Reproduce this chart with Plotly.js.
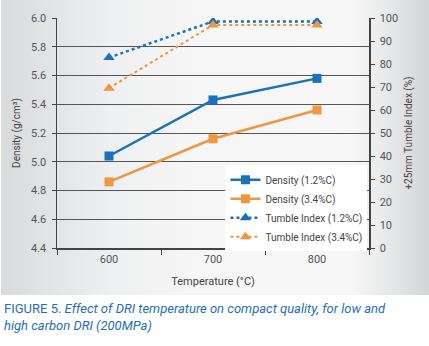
<!DOCTYPE html>
<html><head><meta charset="utf-8">
<script src="https://cdn.plot.ly/plotly-3.0.1.min.js"></script>
<style>
html,body{margin:0;padding:0;background:#fff;}
#wrap{position:relative;width:429px;height:346px;}
#bg{position:absolute;left:1px;top:0;width:428px;height:295px;
background:linear-gradient(to right,#d9dadc 0%,#eeeff0 25%,#f6f6f6 45%,#f7f7f7 82%,#e4e5e6 92%,#d3d4d6 100%);}
#chart{position:absolute;left:0;top:0;width:429px;height:346px;}
</style></head>
<body><div id="wrap"><div id="bg"></div><div id="chart"></div></div>
<script>
const temperatures = ["600", "700", "800"];
const density12 = [5.04, 5.43, 5.58];
const density34 = [4.86, 5.16, 5.36];
const tumble12 = [82.8, 98.5, 98.5];
const tumble34 = [69.5, 97.0, 97.0];
const seriesNames = ["Density (1.2%C)", "Density (3.4%C)", "Tumble Index (1.2%C)", "Tumble Index (3.4%C)"];

const blue = "#1b72b9", orange = "#ef9640";
const traces = [
  {x: temperatures, y: density12, name: seriesNames[0], type: "scatter", mode: "lines+markers",
   line: {color: blue, width: 2.5}, marker: {symbol: "square", size: 9, color: blue}},
  {x: temperatures, y: density34, name: seriesNames[1], type: "scatter", mode: "lines+markers",
   line: {color: orange, width: 2.5}, marker: {symbol: "square", size: 9, color: orange}},
  {x: temperatures, y: tumble12, name: seriesNames[2], type: "scatter", mode: "lines+markers", yaxis: "y2",
   line: {color: blue, width: 2.5, dash: "dot"}, marker: {symbol: "triangle-up", size: 10, color: blue}},
  {x: temperatures, y: tumble34, name: seriesNames[3], type: "scatter", mode: "lines+markers", yaxis: "y2",
   line: {color: orange, width: 2, dash: "dot"}, marker: {symbol: "triangle-up", size: 10, color: orange}}
];
const tickFont = {family: "Roboto, sans-serif", size: 11, color: "#555"};
const layout = {
  width: 429, height: 346,
  margin: {l: 57, r: 60, t: 18, b: 98},
  paper_bgcolor: "rgba(0,0,0,0)", plot_bgcolor: "rgba(0,0,0,0)",
  font: {family: "Roboto, sans-serif", size: 11, color: "#555"},
  showlegend: true,
  legend: {x: 0.54, y: 0.36, xanchor: "left", yanchor: "top", bgcolor: "#ffffff",
           font: {family: "Roboto, sans-serif", size: 10, color: "#444"}, tracegroupgap: 0},
  xaxis: {type: "category", range: [-0.5, 2.5], tickson: "boundaries", ticks: "outside", ticklen: 5,
          tickcolor: "#444", showline: true, linecolor: "#444", linewidth: 1.5, showgrid: false,
          tickfont: tickFont, title: {text: "Temperature (°C)", font: {size: 11, color: "#444"}, standoff: 12}},
  yaxis: {range: [4.4, 6.0], dtick: 0.2, tickformat: ".1f", showgrid: true, gridcolor: "#555", gridwidth: 1,
          showline: true, linecolor: "#444", linewidth: 1.5, ticks: "outside", ticklen: 4, tickcolor: "#444",
          ticklabelstandoff: 3, zeroline: false, tickfont: tickFont,
          title: {text: "Density (g/cm³)", font: {size: 10, color: "#444"}, standoff: 8}},
  yaxis2: {overlaying: "y", side: "right", range: [0, 100], dtick: 10, showgrid: false, zeroline: false,
          showline: true, linecolor: "#444", linewidth: 1.5, ticks: "outside", ticklen: 4, tickcolor: "#444",
          ticklabelstandoff: 3, tickfont: tickFont,
          title: {text: "+25mm Tumble Index (%)", font: {size: 10, color: "#444"}, standoff: 8}},
  annotations: [
    {xref: "paper", yref: "paper", x: -0.175, y: -0.222, xanchor: "left", yanchor: "top", align: "left",
     showarrow: false, font: {family: "Roboto, sans-serif", size: 13, color: "#1f6fb4"},
     text: "FIGURE 5. <i>Effect of DRI temperature on compact quality, for low and<br>high carbon DRI (200MPa)</i>"}
  ]
};
Plotly.newPlot("chart", traces, layout, {displayModeBar: false, staticPlot: true});
</script></body></html>
